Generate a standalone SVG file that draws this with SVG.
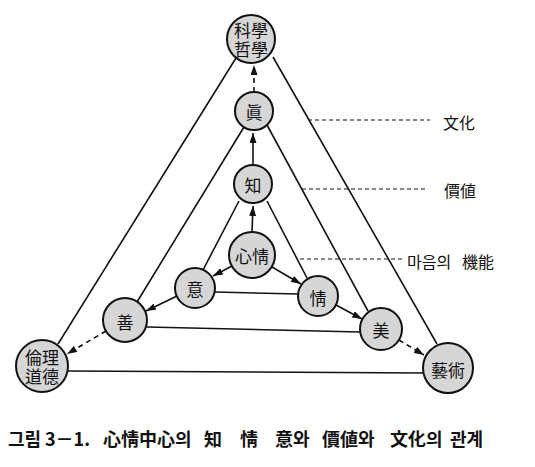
<svg xmlns="http://www.w3.org/2000/svg" width="535" height="467" viewBox="0 0 535 467">
<style>
.node circle{fill:#d6d6d6;stroke:#111;stroke-width:2}
.node text{font-family:"Noto Sans CJK KR","Noto Sans CJK TC",sans-serif;font-size:17px;fill:#111;text-anchor:middle;dominant-baseline:central}
.ln{stroke:#111;stroke-width:1.6;fill:none}
.dash{stroke:#111;stroke-width:1.6;fill:none;stroke-dasharray:5,4}
.lead{stroke:#111;stroke-width:1.2;fill:none;stroke-dasharray:4,3}
.lbl{font-family:"Noto Sans CJK KR",sans-serif;font-size:16px;fill:#111}
.cap{font-family:"Noto Sans CJK KR",sans-serif;font-size:18px;font-weight:bold;fill:#111}
</style>
<defs>
<marker id="ah" markerUnits="userSpaceOnUse" markerWidth="10" markerHeight="7" refX="10" refY="3.5" orient="auto">
<path d="M0,0 L10,3.5 L0,7 z" fill="#111"/>
</marker>
</defs>
<rect width="535" height="467" fill="#fff"/>
<g id="connectors">
<line class="ln" x1="236" y1="58" x2="58" y2="344"/>
<line class="ln" x1="273" y1="57" x2="437" y2="344"/>
<line class="ln" x1="68" y1="371" x2="423" y2="373"/>
<line class="ln" x1="244" y1="127" x2="137" y2="302"/>
<line class="ln" x1="267" y1="125" x2="368" y2="311"/>
<line class="ln" x1="147" y1="327" x2="360" y2="332"/>
<line class="ln" x1="239" y1="201" x2="203" y2="270"/>
<line class="ln" x1="267" y1="201" x2="307" y2="278"/>
<line class="ln" x1="215" y1="292" x2="298" y2="294"/>
<line class="ln" x1="253" y1="165" x2="253" y2="133" marker-end="url(#ah)"/>
<line class="ln" x1="252" y1="232" x2="253" y2="206" marker-end="url(#ah)"/>
<line class="ln" x1="232" y1="266" x2="213" y2="276" marker-end="url(#ah)"/>
<line class="ln" x1="272" y1="267" x2="301" y2="284" marker-end="url(#ah)"/>
<line class="ln" x1="177" y1="296" x2="146" y2="311" marker-end="url(#ah)"/>
<line class="ln" x1="336" y1="305" x2="362" y2="319" marker-end="url(#ah)"/>
<line class="dash" x1="254" y1="92" x2="254" y2="65" marker-end="url(#ah)"/>
<line class="dash" x1="106" y1="331" x2="67" y2="354" marker-end="url(#ah)"/>
<line class="dash" x1="399" y1="340" x2="424" y2="355" marker-end="url(#ah)"/>
<line class="lead" x1="308" y1="120" x2="430" y2="120"/>
<line class="lead" x1="302" y1="189" x2="428" y2="189"/>
<line class="lead" x1="300" y1="259" x2="405" y2="259"/>
</g>
<g id="n-science" class="node"><circle cx="251" cy="39" r="24"/><text x="251" y="29">科學</text><text x="251" y="48">哲學</text></g>
<g id="n-truth" class="node"><circle cx="254" cy="111" r="19"/><text x="254" y="111">眞</text></g>
<g id="n-know" class="node"><circle cx="253" cy="184" r="19"/><text x="253" y="184">知</text></g>
<g id="n-heart" class="node"><circle cx="252" cy="255" r="23"/><text x="252" y="255">心情</text></g>
<g id="n-will" class="node"><circle cx="195" cy="288" r="20"/><text x="195" y="288">意</text></g>
<g id="n-feel" class="node"><circle cx="318" cy="296" r="20"/><text x="318" y="297">情</text></g>
<g id="n-good" class="node"><circle cx="125" cy="320" r="22"/><text x="125" y="321">善</text></g>
<g id="n-beauty" class="node"><circle cx="381" cy="329" r="21"/><text x="381" y="329">美</text></g>
<g id="n-ethics" class="node"><circle cx="42" cy="366" r="26"/><text x="42" y="356">倫理</text><text x="42" y="375">道德</text></g>
<g id="n-art" class="node"><circle cx="448" cy="368" r="25"/><text x="448" y="369">藝術</text></g>
<g id="labels">
<text class="lbl" x="443" y="129">文化</text>
<text class="lbl" x="444" y="197">價値</text>
<text class="lbl" y="268"><tspan x="407">마음의</tspan><tspan x="462">機能</tspan></text>
</g>
<text class="cap" y="446"><tspan x="8">그림</tspan><tspan x="45">3－1.</tspan><tspan x="103">心情中心의</tspan><tspan x="204">知</tspan><tspan x="240">情</tspan><tspan x="275">意와</tspan><tspan x="322">價値와</tspan><tspan x="390">文化의</tspan><tspan x="450">관계</tspan></text>
</svg>
